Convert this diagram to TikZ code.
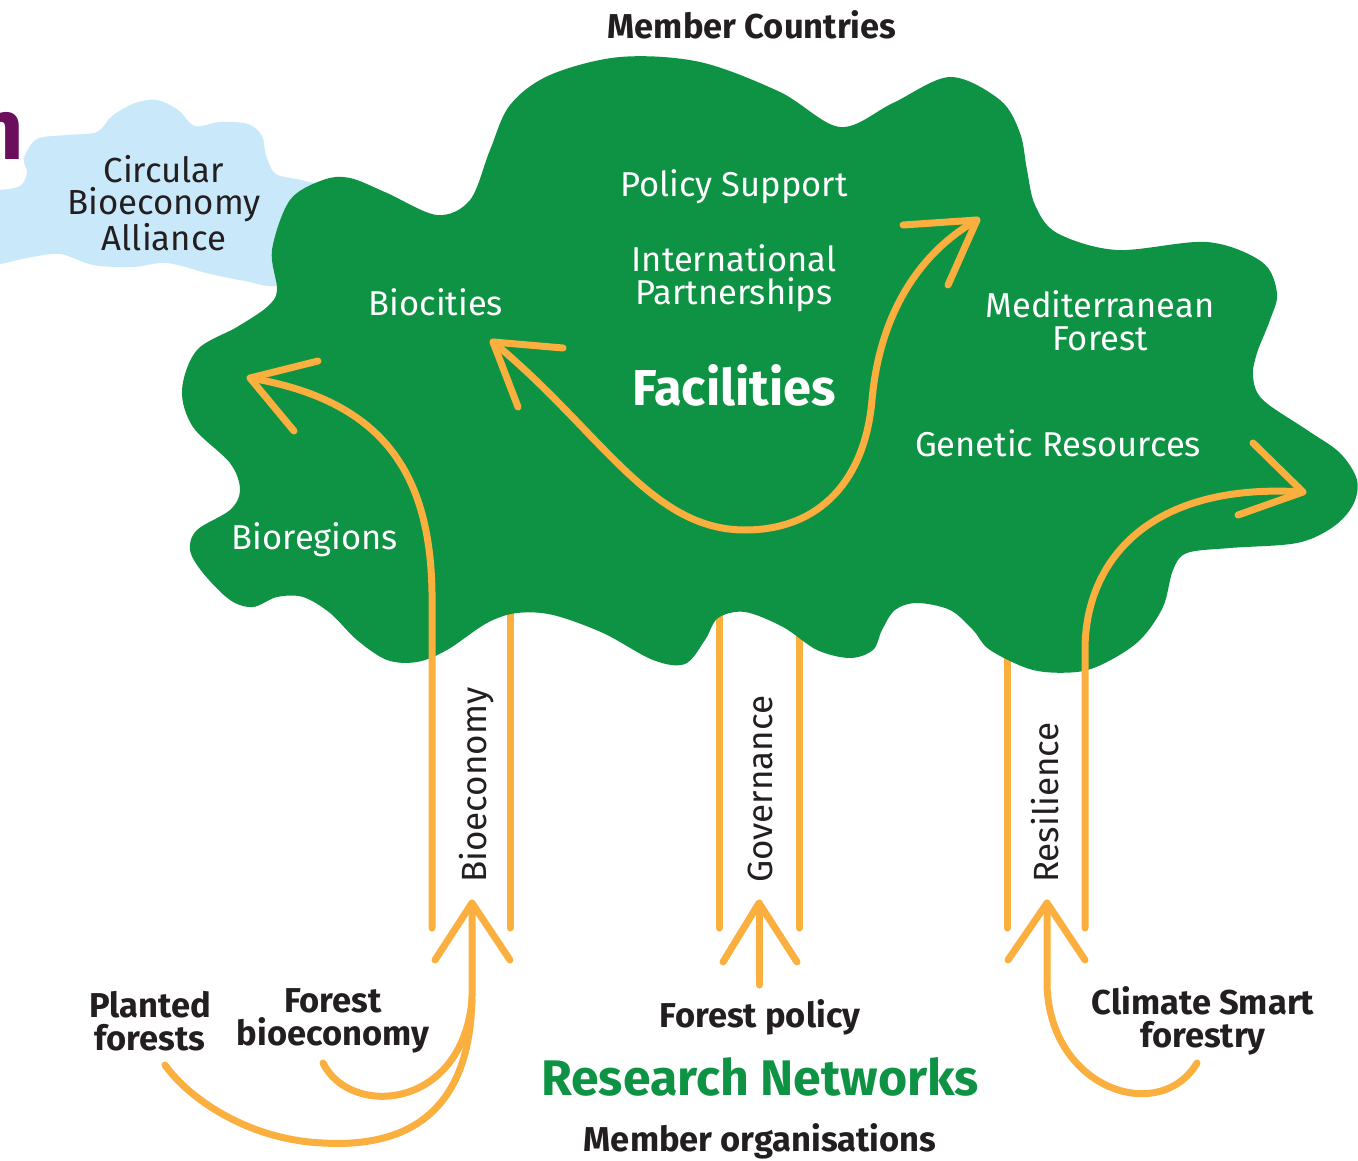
\documentclass[tikz,border=0pt]{standalone}
\usepackage{fontspec}
\setmainfont{Fira Sans}
\definecolor{cgreen}{HTML}{0E9345}
\definecolor{cblue}{HTML}{C9E9FA}
\definecolor{corange}{HTML}{FAAF3F}
\definecolor{cdark}{HTML}{231F20}
\definecolor{cpurple}{HTML}{6B0F5D}
\tikzset{
  oline/.style={draw=corange, line width=7pt, line cap=round, line join=round},
  wtxt/.style={text=white, inner sep=0pt, align=center, font=\fontsize{34.5}{32.5}\selectfont},
  dtxt/.style={text=cdark, inner sep=0pt, align=center, font=\fontsize{34.8}{32.5}\selectfont},
  btxt/.style={text=cdark, inner sep=0pt, align=center, font=\bfseries\fontsize{34.5}{32.5}\selectfont},
  vtxt/.style={text=cdark, inner sep=0pt, rotate=90, anchor=base west, font=\fontsize{35}{32}\selectfont},
}
\begin{document}
\begin{tikzpicture}[x=1pt,y=-1pt]
\useasboundingbox (0,0) rectangle (1358,1161);
% cropped title letter
\node[text=cpurple, inner sep=0pt, anchor=base east, font=\bfseries\fontsize{86}{86}\selectfont] (title) at (24,160) {n};
% light blue cloud
\fill[cblue] plot[smooth cycle, tension=0.55] coordinates {
 (-20,190) (0,190) (20,186) (27,173) (24,158) (37,139) (67,135) (97,132) (112,116) (135,103)
 (157,100) (178,110) (195,126) (220,122) (248,124) (262,136) (266,155) (276,174) (305,181)
 (340,195) (340,275) (277,286) (245,281) (210,274) (167,263) (133,267) (93,265) (60,254)
 (27,258) (0,264) (-20,264)};
% pillars behind the cloud
\draw[oline] (510,600) -- (510,928);
\draw[oline] (719,600) -- (719,928);
\draw[oline] (799,600) -- (799,928);
\draw[oline] (1007,600) -- (1007,928);
% green cloud
\fill[cgreen] plot[smooth cycle, tension=0.55] coordinates {
 (277,290) (272,250) (290,200) (323,180) (350,178) (387,193) (437,215) (470,200) (490,150)
 (510,105) (550,75) (620,57) (700,62) (780,92) (840,127) (893,103) (950,77) (1000,100)
 (1020,133) (1027,170) (1035,205) (1057,233) (1117,250) (1207,242) (1262,262) (1277,293)
 (1270,320) (1257,353) (1253,377) (1263,400) (1307,430) (1340,453) (1357,480) (1353,505)
 (1333,527) (1297,543) (1230,548) (1187,553) (1173,570) (1163,607) (1140,640) (1107,662)
 (1077,672) (1033,670) (990,650) (973,630) (950,610) (917,603) (895,610) (882,630) (873,650)
 (850,658) (817,650) (783,627) (745,612) (718,618) (705,640) (685,664) (653,660) (603,633)
 (553,615) (517,613) (487,623) (447,650) (417,662) (387,660) (357,640) (330,613) (303,597)
 (277,597) (253,607) (230,600) (203,573) (190,550) (197,530) (230,510) (240,490) (230,463)
 (193,427) (182,390) (197,350) (237,327) (267,307)};
% texts on clouds
\node[dtxt] (cba) at (164,203) {Circular\\Bioeconomy\\Alliance};
\node[wtxt] (policy) at (734,187) {Policy Support};
\node[wtxt] (intl) at (734,278) {International\\Partnerships};
\node[wtxt] (biocities) at (436,302) {Biocities};
\node[text=white, inner sep=0pt, font=\bfseries\fontsize{50.5}{50}\selectfont] (facilities) at (734,385) {Facilities};
\node[wtxt] (med) at (1100,321) {Mediterranean\\Forest};
\node[wtxt] (genetic) at (1058,443) {Genetic Resources};
\node[wtxt] (bioregions) at (315,540) {Bioregions};
% arrows on the cloud
\draw[oline] (432,928) -- (432,592) .. controls (430,470) and (380,400) .. (250,378);
\draw[oline] (318,361) -- (250,378) -- (294,431);
\draw[oline] (493,342) .. controls (600,430) and (650,530) .. (745,530)
   .. controls (820,530) and (865,480) .. (872,400)
   .. controls (879,320) and (915,255) .. (977,220);
\draw[oline] (563,348) -- (493,342) -- (518,407);
\draw[oline] (903,225) -- (977,220) -- (948,285);
\draw[oline] (1085,928) -- (1085,650) .. controls (1085,560) and (1150,482) .. (1303,492);
\draw[oline] (1253,443) -- (1303,492) -- (1238,515);
% bottom arrows
\draw[oline] (472,903) -- (472,990) .. controls (473,1110) and (410,1148) .. (323,1143)
   .. controls (250,1140) and (190,1100) .. (165,1065);
\draw[oline] (323,1063) .. controls (350,1118) and (462,1110) .. (472,1000);
\draw[oline] (435,960) -- (472,903) -- (510,960);
\draw[oline] (759,985) -- (759,903);
\draw[oline] (723,962) -- (759,903) -- (797,962);
\draw[oline] (1047,903) -- (1047,985) .. controls (1050,1090) and (1160,1125) .. (1197,1063);
\draw[oline] (1008,960) -- (1047,903) -- (1085,960);
% vertical labels
\node[vtxt] (bioeco) at (486,883) {Bioeconomy};
\node[vtxt] (gov) at (772,883) {Governance};
\node[vtxt] (resil) at (1058,883) {Resilience};
% outer labels
\node[btxt] (members) at (752,25) {Member Countries};
\node[btxt] (planted) at (150,1021) {Planted\\forests};
\node[btxt] (fbio) at (333,1021) {Forest\\bioeconomy};
\node[btxt] (fpolicy) at (760,1017) {Forest policy};
\node[text=cgreen, inner sep=0pt, font=\bfseries\fontsize{50}{50}\selectfont] (rn) at (760,1077) {Research Networks};
\node[btxt] (morg) at (760,1141) {Member organisations};
\node[btxt] (csf) at (1203,1021) {Climate Smart\\forestry};
\end{tikzpicture}
\end{document}
